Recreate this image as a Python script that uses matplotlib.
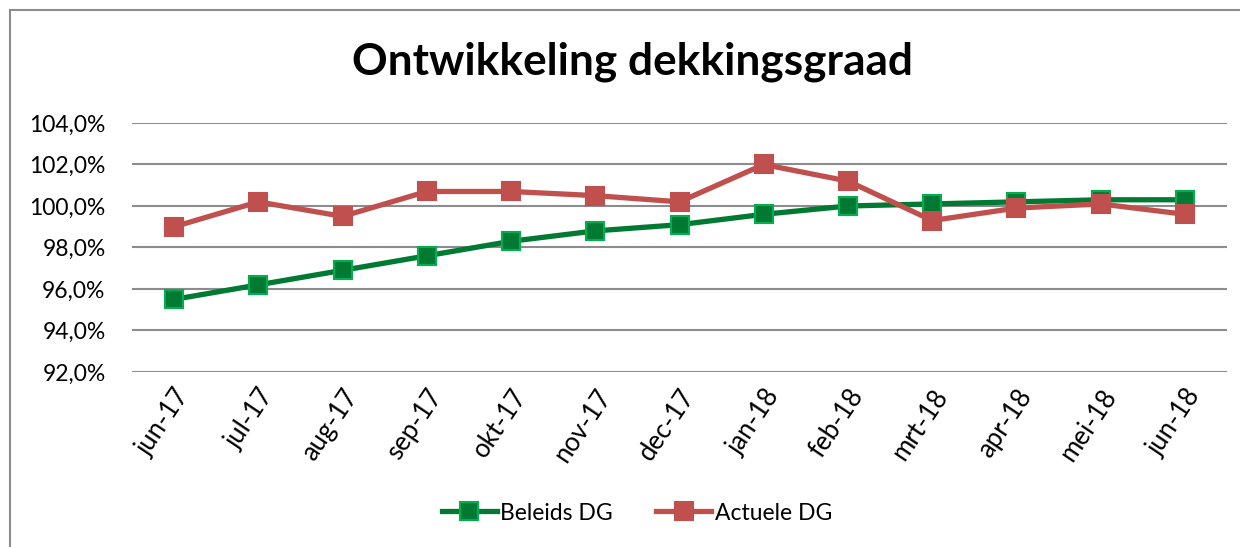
import matplotlib
matplotlib.use("Agg")
import matplotlib.pyplot as plt
from matplotlib.patches import Rectangle
from matplotlib.ticker import FuncFormatter, MultipleLocator

categories = ["jun-17", "jul-17", "aug-17", "sep-17", "okt-17", "nov-17", "dec-17",
              "jan-18", "feb-18", "mrt-18", "apr-18", "mei-18", "jun-18"]
beleids_dg = [95.5, 96.2, 96.9, 97.6, 98.3, 98.8, 99.1, 99.6, 100.0, 100.1, 100.2, 100.3, 100.3]
actuele_dg = [99.0, 100.2, 99.5, 100.7, 100.7, 100.5, 100.2, 102.0, 101.2, 99.3, 99.9, 100.1, 99.6]

plt.rcParams['font.family'] = ['Lato', 'DejaVu Sans']

fig = plt.figure(figsize=(12.4, 5.47), dpi=100)
fig.patch.set_facecolor('white')
fig.add_artist(Rectangle((9.5 / 1240, -0.05), 1.1, 1 - 9.5 / 547 + 0.05,
                         transform=fig.transFigure, fill=False,
                         edgecolor='#8c8c8c', linewidth=1.5))

ax = fig.add_axes([132 / 1240, 1 - 372 / 547, (1227 - 132) / 1240, (372 - 123) / 547])
x = list(range(len(categories)))
ax.plot(x, beleids_dg, color='#007A33', linewidth=3.8, marker='s', markersize=13,
        markerfacecolor='#007A33', markeredgecolor='#00B050', markeredgewidth=1.5,
        label='Beleids DG', zorder=3)
ax.plot(x, actuele_dg, color='#C0504D', linewidth=3.8, marker='s', markersize=13,
        markerfacecolor='#C0504D', markeredgecolor='#C0504D', markeredgewidth=1.5,
        label='Actuele DG', zorder=4)

ax.set_xlim(-0.5, len(categories) - 0.5)
ax.set_ylim(92, 104)
ax.yaxis.set_major_locator(MultipleLocator(2))
ax.yaxis.set_major_formatter(FuncFormatter(lambda v, p: f"{v:.1f}%".replace('.', ',')))
ax.grid(axis='y', color='#8c8c8c', linewidth=1.5)
ax.set_axisbelow(True)
for s in ax.spines.values():
    s.set_visible(False)
ax.tick_params(axis='y', length=0, labelsize=16.5, pad=19)
ax.set_xticks(x)
ax.set_xticklabels(categories, rotation=56, ha='right', va='top', rotation_mode='anchor')
ax.tick_params(axis='x', length=0, labelsize=18.5, pad=9)

fig.text(633 / 1240, 1 - 62 / 547, "Ontwikkeling dekkingsgraad", ha='center', va='center',
         fontsize=31.8, fontweight='bold')

fig.legend(loc='center', bbox_to_anchor=(637 / 1240, 1 - 513 / 547), ncol=2, frameon=False,
           fontsize=16.5, handlelength=2.4, columnspacing=1.9, handletextpad=0.15)

fig.savefig('out.png', dpi=100, facecolor='white')
